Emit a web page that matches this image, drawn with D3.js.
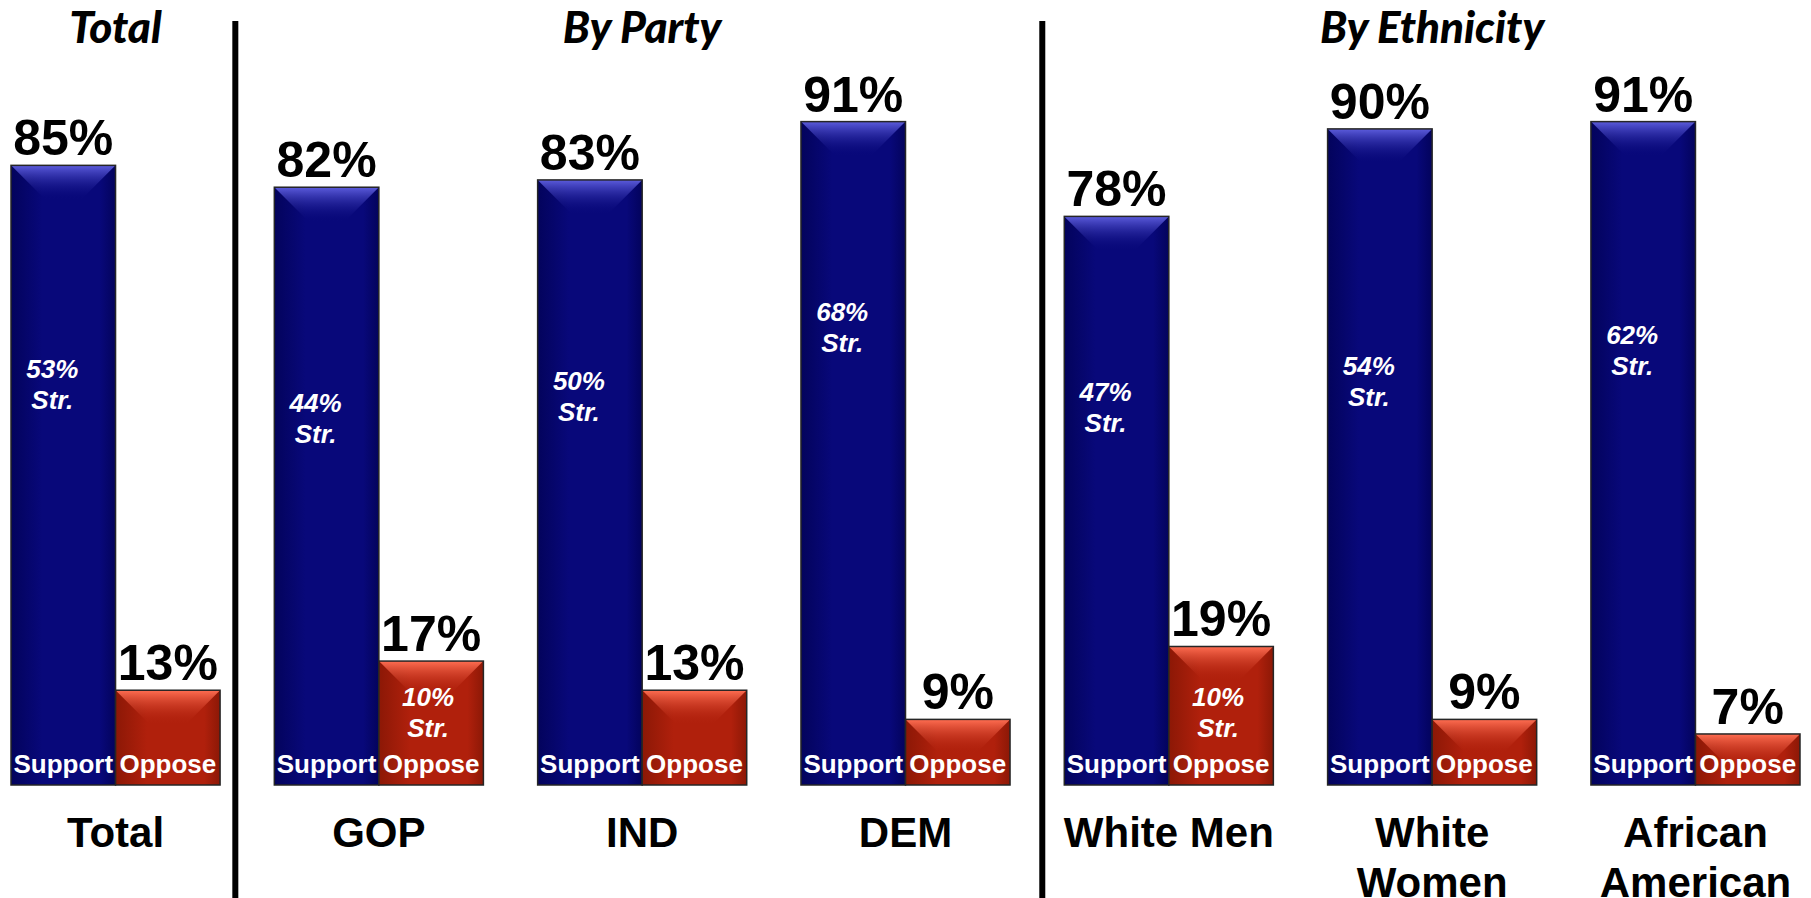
<!DOCTYPE html>
<html>
<head>
<meta charset="utf-8">
<script src="https://cdn.jsdelivr.net/npm/d3@7"></script>
<style>
  body { margin: 0; background: #fff; }
  svg { display: block; }
</style>
</head>
<body>
<svg id="chart" width="1811" height="898"></svg>
<script>
// data
const groups = ['Total', 'GOP', 'IND', 'DEM', 'White Men', 'White Women', 'African American'];
const groupLines = [['Total'], ['GOP'], ['IND'], ['DEM'], ['White Men'], ['White', 'Women'], ['African', 'American']];
const support = [85, 82, 83, 91, 78, 90, 91];
const oppose = [13, 17, 13, 9, 19, 9, 7];
const strongSupport = [53, 44, 50, 68, 47, 54, 62];
const strongOppose = [null, 10, null, null, 10, null, null];
const sectionTitles = ['Total', 'By Party', 'By Ethnicity'];
const sectionGroups = [['Total'], ['GOP', 'IND', 'DEM'], ['White Men', 'White Women', 'African American']];

var svg = d3.select('#chart');

var xScale = d3.scaleBand()
  .domain(groups)
  .range([11, 1800])
  .paddingInner(0.206)
  .paddingOuter(0);

var yScale = d3.scaleLinear()
  .domain([0, 100])
  .range([785, 56]);

var bw = xScale.bandwidth() / 2;

// gradients
var defs = svg.append('defs');

function bodyGrad(id, dark, base) {
  var g = defs.append('linearGradient').attr('id', id)
    .attr('x1', '0%').attr('x2', '100%').attr('y1', '0%').attr('y2', '0%');
  g.append('stop').attr('offset', '0%').attr('stop-color', dark);
  g.append('stop').attr('offset', '30%').attr('stop-color', base);
  g.append('stop').attr('offset', '85%').attr('stop-color', base);
  g.append('stop').attr('offset', '100%').attr('stop-color', dark);
}
function topGrad(id, light, base) {
  var g = defs.append('linearGradient').attr('id', id)
    .attr('x1', '0%').attr('x2', '0%').attr('y1', '0%').attr('y2', '100%');
  g.append('stop').attr('offset', '0%').attr('stop-color', light).attr('stop-opacity', 1);
  g.append('stop').attr('offset', '100%').attr('stop-color', base).attr('stop-opacity', 0);
}
bodyGrad('supBody', '#03035c', '#08087a');
bodyGrad('oppBody', '#8c1806', '#b0200c');
topGrad('supTop', '#5c5cdc', '#08087a');
topGrad('oppTop', '#ff6e52', '#b0200c');

var rows = groups.map((g, i) => ({
  name: g, lines: groupLines[i],
  support: support[i], oppose: oppose[i],
  sSup: strongSupport[i], sOpp: strongOppose[i]
}));

var bars = [];
rows.forEach(d => {
  bars.push({ g: d.name, kind: 'sup', x: xScale(d.name), v: d.support, strong: d.sSup, label: 'Support' });
  bars.push({ g: d.name, kind: 'opp', x: xScale(d.name) + bw, v: d.oppose, strong: d.sOpp, label: 'Oppose' });
});

var gBars = svg.append('g').attr('class', 'bars');

var bar = gBars.selectAll('.bar')
  .data(bars)
  .join('g')
  .attr('class', 'bar');

bar.append('rect')
  .attr('x', d => d.x)
  .attr('y', d => yScale(d.v))
  .attr('width', bw)
  .attr('height', d => yScale(0) - yScale(d.v))
  .attr('fill', d => d.kind == 'sup' ? 'url(#supBody)' : 'url(#oppBody)');

// bevel on top
bar.append('path')
  .attr('d', d => {
    var x0 = d.x, x1 = d.x + bw, y0 = yScale(d.v);
    var dd = Math.min(bw * 0.33, (yScale(0) - y0));
    return 'M' + x0 + ',' + y0 + 'L' + x1 + ',' + y0 + 'L' + (x1 - dd) + ',' + (y0 + dd) +
      'L' + (x0 + dd) + ',' + (y0 + dd) + 'Z';
  })
  .attr('fill', d => d.kind == 'sup' ? 'url(#supTop)' : 'url(#oppTop)');

bar.append('rect')
  .attr('x', d => d.x)
  .attr('y', d => yScale(d.v))
  .attr('width', bw)
  .attr('height', d => yScale(0) - yScale(d.v))
  .attr('fill', 'none')
  .attr('stroke', '#262626')
  .attr('stroke-width', 1.5);

// value labels on top
bar.append('text')
  .text(d => d.v + '%')
  .attr('x', d => d.x + bw / 2)
  .attr('y', d => yScale(d.v) - 10)
  .attr('text-anchor', 'middle')
  .attr('font-family', '"Liberation Sans", Arial, sans-serif')
  .attr('font-weight', 'bold')
  .attr('font-size', 50)
  .attr('fill', '#000');

// Support / Oppose inside bars
bar.append('text')
  .text(d => d.label)
  .attr('x', d => d.x + bw / 2)
  .attr('y', yScale(0) - 12)
  .attr('text-anchor', 'middle')
  .attr('font-family', '"Liberation Sans", Arial, sans-serif')
  .attr('font-weight', 'bold')
  .attr('font-size', 26)
  .attr('fill', '#fff');

// strong labels
function strongCenter(d) {
  if (d.kind == 'sup') return yScale(27.4 + 0.52 * d.strong);
  return yScale(d.strong);
}
var strong = bar.filter(d => d.strong != null).append('text')
  .attr('text-anchor', 'middle')
  .attr('font-family', '"Liberation Sans", Arial, sans-serif')
  .attr('font-weight', 'bold')
  .attr('font-style', 'italic')
  .attr('font-size', 26)
  .attr('fill', '#fff');
strong.append('tspan')
  .attr('x', d => d.x + bw / 2 + (d.kind == 'sup' ? -11 : -3))
  .attr('y', d => strongCenter(d) - 6)
  .text(d => d.strong + '%');
strong.append('tspan')
  .attr('x', d => d.x + bw / 2 + (d.kind == 'sup' ? -11 : -3))
  .attr('y', d => strongCenter(d) + 25)
  .text('Str.');

// group labels below
var glab = svg.selectAll('.glab')
  .data(rows)
  .join('text')
  .attr('class', 'glab')
  .attr('text-anchor', 'middle')
  .attr('font-family', '"Liberation Sans", Arial, sans-serif')
  .attr('font-weight', 'bold')
  .attr('font-size', 42)
  .attr('fill', '#000');
glab.selectAll('tspan')
  .data(d => d.lines.map(l => ({ l: l, x: xScale(d.name) + bw })))
  .join('tspan')
  .attr('x', d => d.x)
  .attr('y', (d, i) => yScale(0) + 62 + i * 50)
  .text(d => d.l);

// section titles
svg.selectAll('.stitle')
  .data(sectionTitles)
  .join('text')
  .attr('class', 'stitle')
  .attr('x', (d, i) => {
    var gs = sectionGroups[i];
    return (xScale(gs[0]) + xScale(gs[gs.length - 1]) + xScale.bandwidth()) / 2;
  })
  .attr('y', 43)
  .attr('text-anchor', 'middle')
  .attr('font-family', 'Lato, "Open Sans", sans-serif')
  .attr('font-weight', 900)
  .attr('font-style', 'italic')
  .attr('font-size', 44)
  .attr('fill', '#000')
  .text(d => d);

// divider lines before each section after the first
var dividerOffset = [39, 22];
for (var i = 1; i < sectionGroups.length; i++) {
  var xd = xScale(sectionGroups[i][0]) - dividerOffset[i - 1];
  svg.append('line')
    .attr('x1', xd).attr('x2', xd)
    .attr('y1', 21).attr('y2', 898)
    .attr('stroke', '#000')
    .attr('stroke-width', 6);
}
</script>
</body>
</html>
